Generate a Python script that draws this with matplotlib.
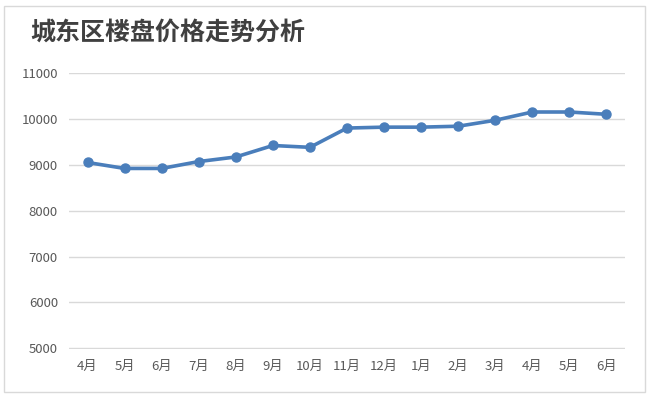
import matplotlib.pyplot as plt
from matplotlib.patches import Rectangle

plt.rcParams['font.family'] = ['Noto Sans CJK SC', 'DejaVu Sans']

# 数据
months = ['4月', '5月', '6月', '7月', '8月', '9月', '10月', '11月', '12月',
          '1月', '2月', '3月', '4月', '5月', '6月']
prices = [9050, 8920, 8920, 9070, 9170, 9420, 9380, 9800, 9820,
          9820, 9840, 9970, 10150, 10150, 10100]
yticks = [5000, 6000, 7000, 8000, 9000, 10000, 11000]

fig = plt.figure(figsize=(6.5, 3.98), dpi=100)
fig.patches.append(Rectangle((4 / 650, 6 / 398), 641 / 650, 386 / 398,
                             transform=fig.transFigure, fill=False,
                             edgecolor='#d9d9d9', linewidth=1))

ax = fig.add_axes([69 / 650, 1 - 349 / 398, 556 / 650, 276 / 398])
x = range(len(months))
ax.plot(x, prices, color='#4a7ebb', linewidth=2.6, marker='o',
        markersize=6.5, zorder=3)

ax.set_xlim(-0.5, len(months) - 0.5)
ax.set_ylim(4985, 11000)
ax.set_yticks(yticks)
ax.set_xticks(list(x))
ax.set_xticklabels(months)
ax.grid(axis='y', color='#d9d9d9', linewidth=1)
ax.set_axisbelow(True)
for s in ax.spines.values():
    s.set_visible(False)
ax.tick_params(length=0, labelsize=9.5, colors='#595959')
ax.tick_params(axis='x', pad=8)
ax.tick_params(axis='y', pad=8)

fig.text(30 / 650, 1 - 33 / 398, '城东区楼盘价格走势分析', fontsize=18,
         fontweight='bold', color='#404040', va='center', ha='left')

fig.savefig('out.png', dpi=100)
